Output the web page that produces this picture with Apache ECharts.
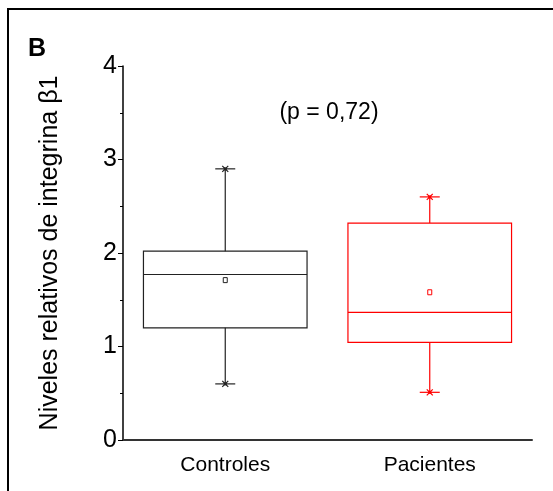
<!DOCTYPE html>
<html>
<head>
<meta charset="utf-8">
<script src="https://cdn.jsdelivr.net/npm/echarts@6/dist/echarts.min.js"></script>
<style>
  html, body { margin: 0; padding: 0; background: #fff; }
  #main { width: 553px; height: 491px; }
</style>
</head>
<body>
<div id="main"></div>
<script>
// datos
var categories = ['Controles', 'Pacientes'];
var whiskerMin = [0.6, 0.51];
var q1 = [1.2, 1.045];
var median = [1.77, 1.365];
var q3 = [2.02, 2.32];
var whiskerMax = [2.9, 2.6];
var means = [1.71, 1.58];
var colors = ['#222222', '#ff0000'];
var yTicks = [0, 1, 2, 3, 4];

var FONT = '"Liberation Sans", Arial, sans-serif';

var chartDom = document.getElementById('main');
var myChart = echarts.init(chartDom, null, { renderer: 'canvas' });

var boxData = categories.map(function (c, i) {
    return [i, whiskerMin[i], q1[i], median[i], q3[i], whiskerMax[i], means[i]];
});

function renderBox(params, api) {
    var i = api.value(0);
    var color = colors[i];
    var bw = api.size([1, 0])[0] * 0.8;
    var p = function (v) { return api.coord([i, v]); };
    var pMin = p(api.value(1)), pQ1 = p(api.value(2)), pMed = p(api.value(3));
    var pQ3 = p(api.value(4)), pMax = p(api.value(5)), pMean = p(api.value(6));
    var cx = pMed[0];
    var capW = 10;
    var style = { stroke: color, lineWidth: 1.2, fill: null };
    var children = [
        { type: 'rect', shape: { x: cx - bw / 2, y: pQ3[1], width: bw, height: pQ1[1] - pQ3[1] }, style: style },
        { type: 'line', shape: { x1: cx - bw / 2, y1: pMed[1], x2: cx + bw / 2, y2: pMed[1] }, style: style },
        { type: 'line', shape: { x1: cx, y1: pQ3[1], x2: cx, y2: pMax[1] }, style: style },
        { type: 'line', shape: { x1: cx, y1: pQ1[1], x2: cx, y2: pMin[1] }, style: style },
        { type: 'line', shape: { x1: cx - capW, y1: pMax[1], x2: cx + capW, y2: pMax[1] }, style: style },
        { type: 'line', shape: { x1: cx - capW, y1: pMin[1], x2: cx + capW, y2: pMin[1] }, style: style },
        { type: 'rect', shape: { x: cx - 2, y: pMean[1] - 2.5, width: 4, height: 5 }, style: { stroke: color, lineWidth: 1, fill: '#fff' } }
    ];
    [pMax, pMin].forEach(function (pt) {
        children.push({ type: 'line', shape: { x1: cx - 3, y1: pt[1] - 3, x2: cx + 3, y2: pt[1] + 3 }, style: { stroke: color, lineWidth: 1.2 } });
        children.push({ type: 'line', shape: { x1: cx - 3, y1: pt[1] + 3, x2: cx + 3, y2: pt[1] - 3 }, style: { stroke: color, lineWidth: 1.2 } });
        children.push({ type: 'rect', shape: { x: cx - 1.5, y: pt[1] - 1.5, width: 3, height: 3 }, style: { fill: color } });
    });
    return { type: 'group', children: children };
}

var option = {
    animation: false,
    grid: { left: 123, right: 21, top: 66, bottom: 51 },
    xAxis: {
        type: 'category',
        data: categories,
        axisLine: { lineStyle: { color: '#333', width: 2 } },
        axisTick: { alignWithLabel: true, length: 4, lineStyle: { color: '#000', width: 1 } },
        axisLabel: { color: '#000', fontFamily: FONT, fontSize: 21, margin: 15 }
    },
    yAxis: {
        type: 'value',
        min: yTicks[0],
        max: yTicks[yTicks.length - 1],
        interval: 1,
        name: 'Niveles relativos de integrina β1',
        nameLocation: 'middle',
        nameGap: 60,
        nameTextStyle: { color: '#000', fontFamily: FONT, fontSize: 25 },
        axisLine: { show: true, lineStyle: { color: '#000', width: 1.5 } },
        axisTick: { show: true, length: 5, lineStyle: { color: '#000', width: 1 } },
        minorTick: { show: true, splitNumber: 2, length: 3, lineStyle: { color: '#000', width: 1 } },
        splitLine: { show: false },
        axisLabel: { color: '#000', fontFamily: FONT, fontSize: 25, margin: 6 }
    },
    series: [{
        type: 'custom',
        renderItem: renderBox,
        encode: { x: 0, y: [1, 5] },
        data: boxData
    }],
    graphic: [
        { type: 'rect', shape: { x: 8, y: 9, width: 600, height: 600 }, style: { fill: null, stroke: '#000', lineWidth: 2 } },
        { type: 'text', left: 28, top: 37, style: { text: 'B', font: 'bold 25px ' + FONT, fill: '#000' } },
        { type: 'text', x: 329, y: 113, style: { text: '(p = 0,72)', font: '23px ' + FONT, fill: '#000', align: 'center', verticalAlign: 'middle' } }
    ]
};

option && myChart.setOption(option);
</script>
</body>
</html>
